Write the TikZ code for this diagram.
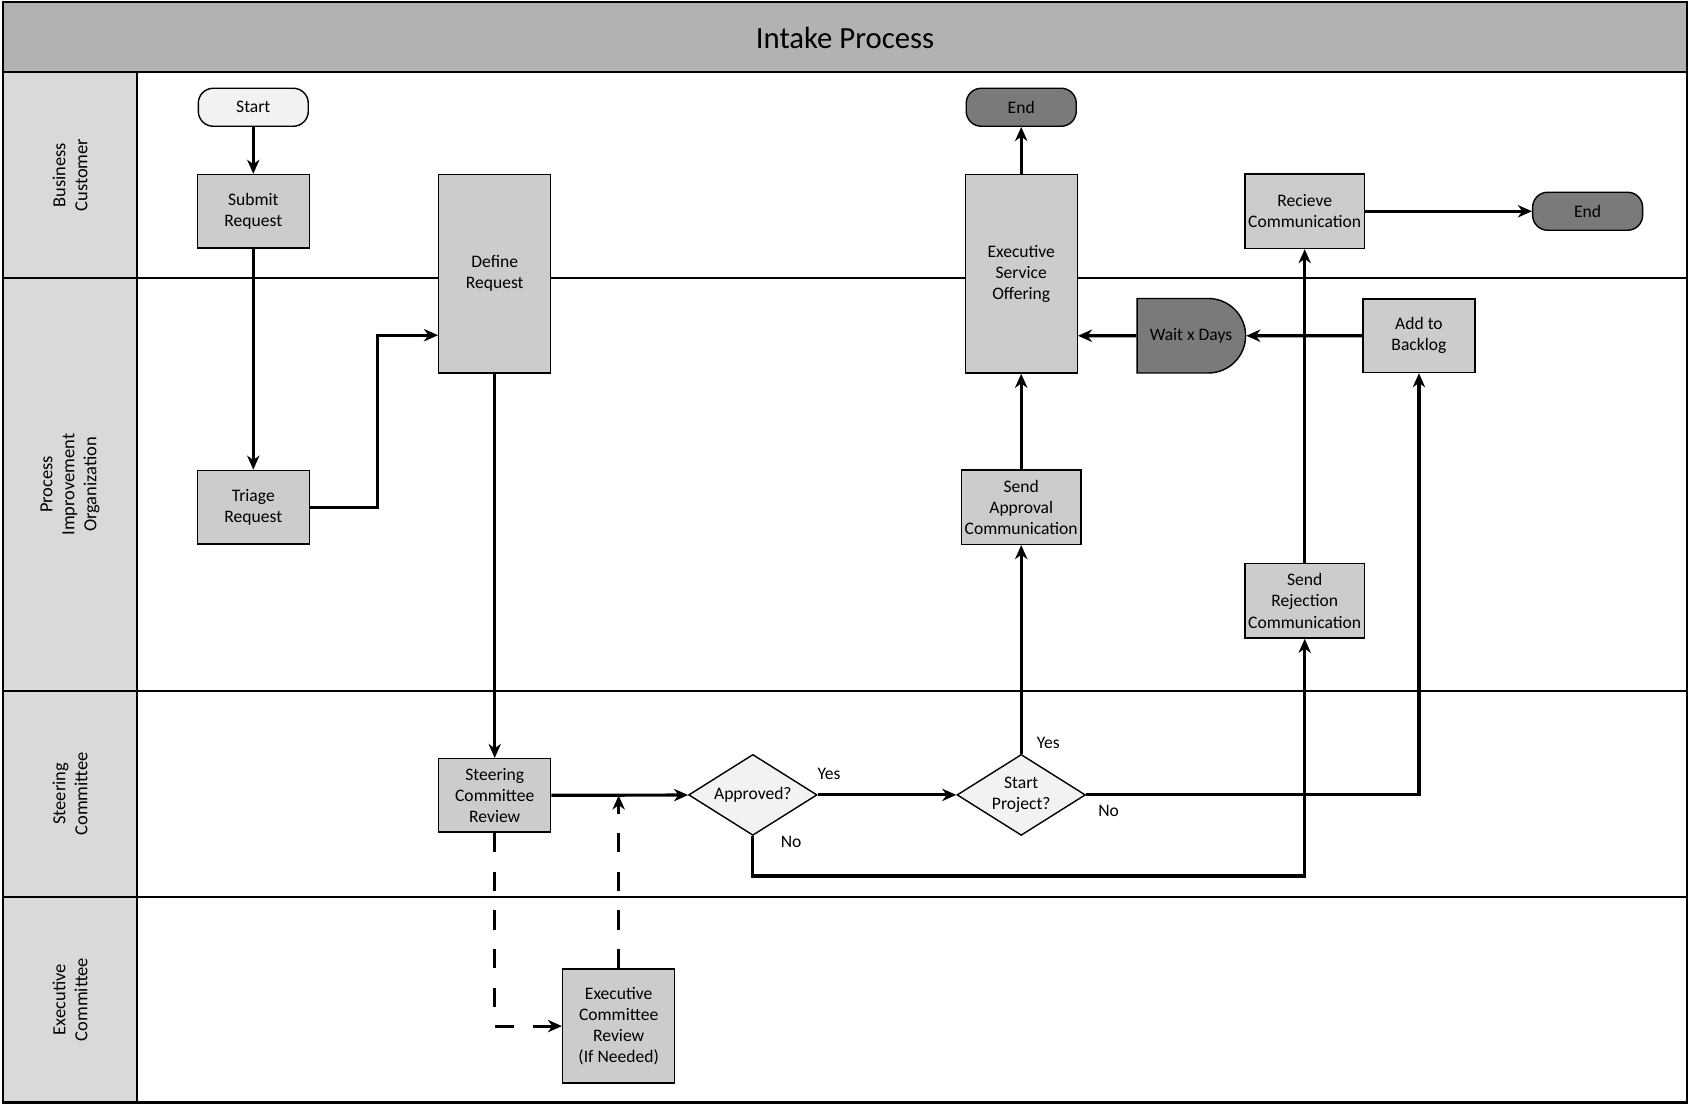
\documentclass[tikz,border=0pt]{standalone}
\usepackage{fontspec}
\setmainfont{Carlito}
\usetikzlibrary{arrows.meta,positioning,calc,shapes.geometric,shapes.misc}
\tikzset{
  frameline/.style={line width=1.3pt},
  laneline/.style={line width=0.9pt},
  lanelabel/.style={rotate=90, align=center, font=\fontsize{10.5}{12.5}\selectfont},
  titletext/.style={font=\fontsize{17.5}{21}\selectfont},
  procbox/.style={rectangle, draw=black, fill=black!20, line width=0.8pt, minimum width=2.24cm, minimum height=1.47cm, inner sep=1pt, align=center, font=\fontsize{10}{12}\selectfont},
  widebox/.style={procbox, minimum width=2.39cm, minimum height=1.49cm},
  tallbox/.style={procbox, minimum height=3.97cm},
  terminal/.style={rectangle, rounded corners=0.3cm, draw=black, fill=black!5, line width=0.8pt, minimum width=2.2cm, minimum height=0.76cm, inner sep=1pt, font=\fontsize{10}{12}\selectfont},
  endterm/.style={terminal, fill=black!52},
  decision/.style={diamond, aspect=1.59, draw=black, fill=black!5, line width=0.8pt, minimum width=2.57cm, minimum height=1.62cm, inner sep=0pt, align=center, font=\fontsize{10}{12}\selectfont},
  delaybox/.style={rounded rectangle, rounded rectangle west arc=none, draw=black, fill=black!52, line width=0.8pt, minimum width=2.24cm, minimum height=1.49cm, inner sep=1pt, font=\fontsize{10}{12}\selectfont},
  flow/.style={-{Stealth[length=8pt, width=7pt, inset=2.5pt]}, line width=1.8pt},
  dashflow/.style={flow, dash pattern=on 11pt off 11pt},
  lbl/.style={inner sep=1pt, font=\fontsize{10}{12}\selectfont}
}
\begin{document}
\begin{tikzpicture}[x=0.021556cm, y=-0.021556cm]
  \useasboundingbox (0,0) rectangle (1568,1026);
  % swimlanes
  \fill[black!30] (3,2) rectangle (1565,67);
  \fill[black!15] (3,67) rectangle (127,1023);
  \draw[laneline] (3,258) -- (1565,258);
  \draw[laneline] (3,641) -- (1565,641);
  \draw[laneline] (3,832) -- (1565,832);
  \draw[laneline] (127,67) -- (127,1023);
  \draw[frameline] (3,67) -- (1565,67);
  \draw[frameline] (3,2) rectangle (1565,1023);
  \node[titletext] (title) at (784,35) {Intake Process};
  \node[lanelabel] (lanebc) at (65,162.5) {Business\\Customer};
  \node[lanelabel] (lanepio) at (65,449.5) {Process\\Improvement\\Organization};
  \node[lanelabel] (lanesc) at (65,736.5) {Steering\\Committee};
  \node[lanelabel] (laneec) at (65,927.5) {Executive\\Committee};

  % steps
  \node[terminal] (start) at (235,99.5) {Start};
  \node[procbox] (submit) at (235,196) {Submit\\Request};
  \node[procbox] (triage) at (235,470.5) {Triage\\Request};
  \node[tallbox] (define) at (459,254) {Define\\Request};
  \node[procbox] (steer) at (459,738) {Steering\\Committee\\Review};
  \node[procbox, minimum height=2.28cm] (execrev) at (574,952) {Executive\\Committee\\Review\\(If Needed)};
  \node[decision] (approved) at (698.5,737.5) {Approved?};
  \node[decision] (startproj) at (947.5,737.5) {Start\\Project?};
  \node[widebox] (sendapp) at (947.5,470.5) {Send\\Approval\\Communication};
  \node[tallbox] (eso) at (947.5,254) {Executive\\Service\\Offering};
  \node[endterm] (endA) at (947.5,99.5) {End};
  \node[delaybox] (wait) at (1105,311.5) {Wait x Days};
  \node[procbox] (addback) at (1316.5,311.5) {Add to\\Backlog};
  \node[widebox] (recv) at (1210.5,196) {Recieve\\Communication};
  \node[endterm] (endB) at (1473,196) {End};
  \node[widebox] (sendrej) at (1210.5,557.5) {Send\\Rejection\\Communication};

  % flows
  \draw[flow] (start) -- (submit);
  \draw[flow] (submit) -- (triage);
  \draw[flow] (triage.east) -- ++(63,0) |- ($(define.west)+(0,57)$);
  \draw[flow] (define) -- (steer);
  \draw[flow] (steer) -- (approved);
  \draw[dashflow] (steer.south) |- (execrev.west);
  \draw[dashflow] (execrev.north) -- (execrev.north |- steer.east);
  \draw[flow] (approved) -- node[lbl, pos=0, anchor=south west, xshift=-2pt, yshift=7pt] {Yes} (startproj);
  \draw[flow] (approved.south) -- node[lbl, pos=0, anchor=north west, xshift=14pt, yshift=2pt] {No} ++(0,37) -| (sendrej.south);
  \draw[flow] (startproj) -- node[lbl, pos=0, anchor=south west, xshift=7pt, yshift=1pt] {Yes} (sendapp);
  \draw[flow] (startproj.east) -| node[lbl, pos=0, anchor=north west, xshift=5pt, yshift=-4pt] {No} (addback.south);
  \draw[flow] (sendapp) -- (eso);
  \draw[flow] (eso) -- (endA);
  \draw[flow] (sendrej) -- (recv);
  \draw[flow] (recv) -- (endB);
  \draw[flow] (addback) -- (wait);
  \draw[flow] (wait) -- (eso.east |- wait.west);
\end{tikzpicture}
\end{document}
